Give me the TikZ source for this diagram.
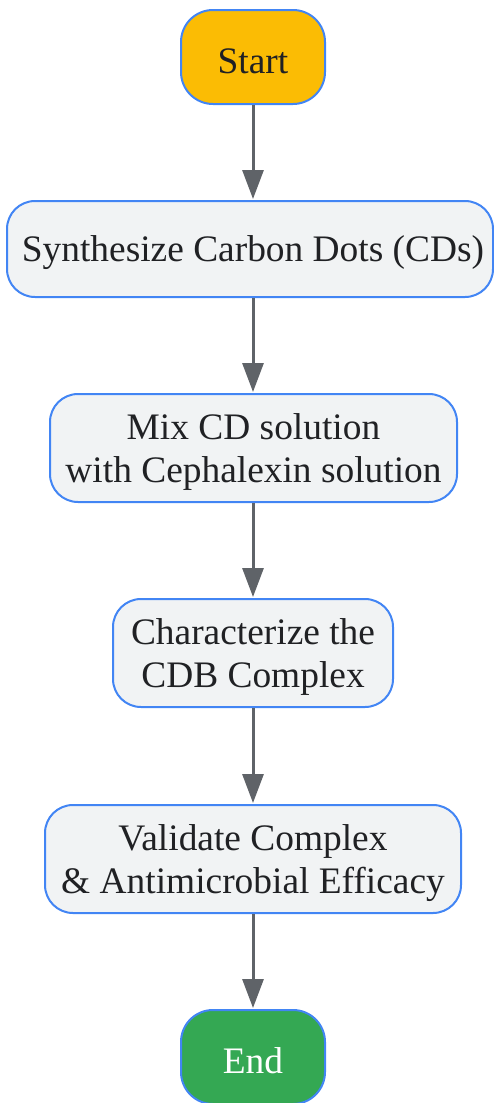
\documentclass[tikz,border=0pt]{standalone}
\usepackage{fontspec}
\setmainfont{Liberation Serif}
\usetikzlibrary{arrows.meta}
\definecolor{boxfill}{HTML}{F1F3F4}
\definecolor{boxline}{HTML}{4285F4}
\definecolor{startfill}{HTML}{FBBC04}
\definecolor{endfill}{HTML}{34A853}
\definecolor{txt}{HTML}{202124}
\definecolor{arrowc}{HTML}{5F6368}
\begin{document}
\begin{tikzpicture}[x=1pt,y=-1pt,
  stepbox/.style={draw=boxline, line width=2pt, fill=boxfill, rounded corners=28pt, inner sep=0pt},
  term/.style={stepbox, rounded corners=32pt},
  lbl/.style={text=txt, align=center, inner sep=0pt, font=\fontsize{37.4}{43}\selectfont, yshift=-4pt},
  flow/.style={draw=arrowc, line width=3pt, -{Triangle[width=21pt,length=29pt]}, shorten >=1pt}
]
\useasboundingbox (0,0) rectangle (494,1103);
\node[term, fill=startfill, minimum width=144pt, minimum height=94pt] (start) at (253,57) {};
\node[stepbox, minimum width=486pt, minimum height=96pt] (synth) at (250,249) {};
\node[stepbox, minimum width=407pt, minimum height=108pt] (mix) at (253.5,448) {};
\node[stepbox, minimum width=280pt, minimum height=108pt] (char) at (253,653) {};
\node[stepbox, minimum width=416pt, minimum height=108pt] (valid) at (253,859) {};
\node[term, fill=endfill, minimum width=144pt, minimum height=94pt] (end) at (253,1057) {};
\node[lbl] (startT) at (start.center) {Start};
\node[lbl, xshift=3pt] (synthT) at (synth.center) {Synthesize Carbon Dots (CDs)};
\node[lbl] (mixT) at (mix.center) {Mix CD solution\\with Cephalexin solution};
\node[lbl] (charT) at (char.center) {Characterize the\\CDB Complex};
\node[lbl] (validT) at (valid.center) {Validate Complex\\\&~Antimicrobial Efficacy};
\node[lbl, text=white] (endT) at (end.center) {End};
\draw[flow] (start.south) -- (start.south |- synth.north);
\draw[flow] (start.south |- synth.south) -- (start.south |- mix.north);
\draw[flow] (start.south |- mix.south) -- (char.north);
\draw[flow] (char.south) -- (valid.north);
\draw[flow] (valid.south) -- (end.north);
\end{tikzpicture}
\end{document}
